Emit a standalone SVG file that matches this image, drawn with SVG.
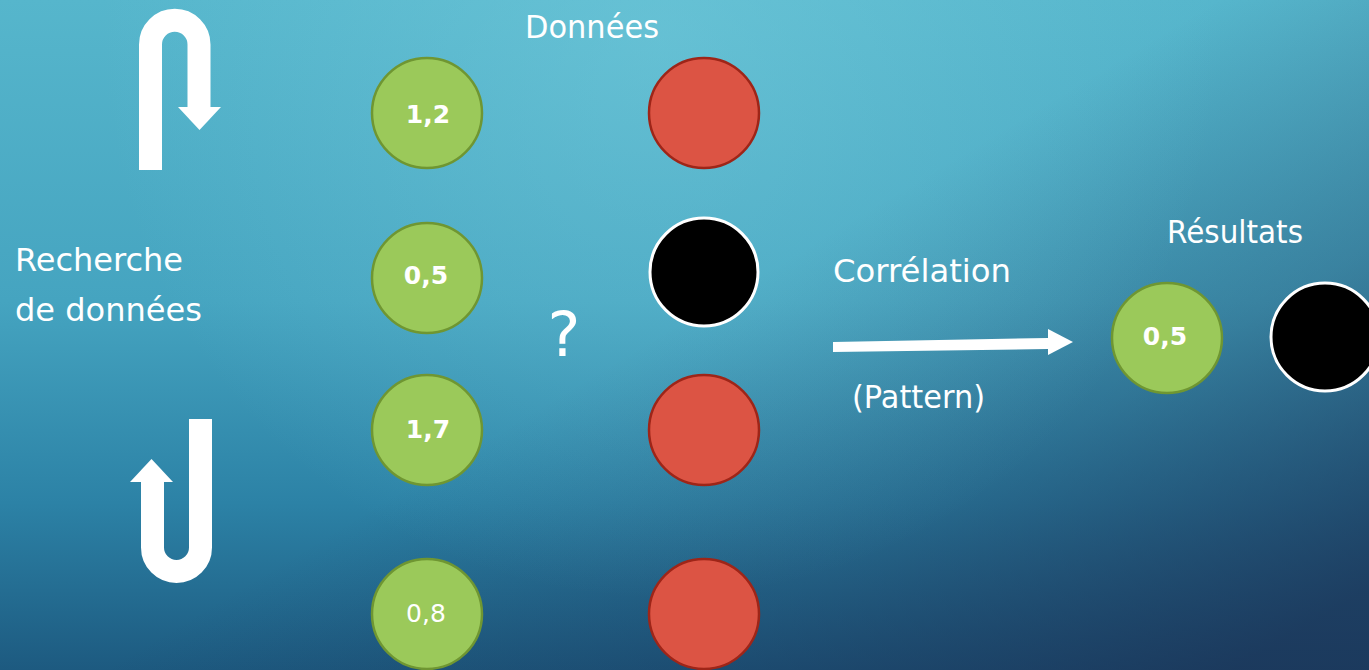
<svg xmlns="http://www.w3.org/2000/svg" width="1369" height="670" viewBox="0 0 1369 670">
  <defs>
    <linearGradient id="bgV" x1="0" y1="0" x2="0" y2="1">
      <stop offset="0" stop-color="#56b6cc"/>
      <stop offset="0.45" stop-color="#45a4c0"/>
      <stop offset="0.75" stop-color="#2c82a6"/>
      <stop offset="1" stop-color="#1d5a80"/>
    </linearGradient>
    <linearGradient id="bgD" x1="800" y1="250" x2="1100" y2="750" gradientUnits="userSpaceOnUse">
      <stop offset="0" stop-color="#1b2f52" stop-opacity="0"/>
      <stop offset="0.5" stop-color="#1b2f52" stop-opacity="0.3"/>
      <stop offset="1" stop-color="#1b2f52" stop-opacity="0.75"/>
    </linearGradient>
    <radialGradient id="bgH" cx="660" cy="40" r="560" gradientUnits="userSpaceOnUse">
      <stop offset="0" stop-color="#7fd3e2" stop-opacity="0.4"/>
      <stop offset="1" stop-color="#7fd3e2" stop-opacity="0"/>
    </radialGradient>
    <style>
      .lbl { font-family: "DejaVu Sans", "Liberation Sans", sans-serif; font-size: 32px; fill: #ffffff; }
      .num { font-family: "DejaVu Sans", "Liberation Sans", sans-serif; font-size: 25px; fill: #ffffff; text-anchor: middle; }
      .b { font-weight: bold; }
      .green { fill: #9bc95a; stroke: #6f9632; stroke-width: 2.5; }
      .red { fill: #dc5444; stroke: #9e2518; stroke-width: 2.5; }
      .black { fill: #000000; stroke: #ffffff; stroke-width: 3; }
      .uarr { fill: none; stroke: #ffffff; stroke-width: 23; }
      .white { fill: #ffffff; }
    </style>
  </defs>

  <rect x="0" y="0" width="1369" height="670" fill="url(#bgV)"/>
  <rect x="0" y="0" width="1369" height="670" fill="url(#bgD)"/>
  <rect x="0" y="0" width="1369" height="670" fill="url(#bgH)"/>

  <g id="loop-arrows">
    <path class="uarr" d="M150.5 170 V44.5 A24.25 24.25 0 0 1 199 44.5 V108"/>
    <polygon class="white" points="178,107 221,107 199.5,130"/>
    <path class="uarr" d="M200.5 419 V547.5 A24 24 0 0 1 152.5 547.5 V481"/>
    <polygon class="white" points="130,482 173,482 151.5,459"/>
  </g>

  <g id="labels">
    <text class="lbl" x="525" y="38" textLength="134" lengthAdjust="spacingAndGlyphs">Données</text>
    <text class="lbl" x="15" y="271" textLength="168" lengthAdjust="spacingAndGlyphs">Recherche</text>
    <text class="lbl" x="15" y="321" textLength="187" lengthAdjust="spacingAndGlyphs">de données</text>
    <text class="lbl" x="833" y="282" textLength="178" lengthAdjust="spacingAndGlyphs">Corrélation</text>
    <text class="lbl" x="852" y="408" textLength="133" lengthAdjust="spacingAndGlyphs">(Pattern)</text>
    <text class="lbl" x="1167" y="243" textLength="136" lengthAdjust="spacingAndGlyphs">Résultats</text>
    <text class="lbl" x="564" y="356" style="font-size:62px" text-anchor="middle">?</text>
  </g>

  <g id="node-g1">
    <circle class="green" cx="427" cy="113" r="55"/>
    <text class="num b" x="428" y="123">1,2</text>
  </g>
  <g id="node-g2">
    <circle class="green" cx="427" cy="278" r="55"/>
    <text class="num b" x="426" y="284">0,5</text>
  </g>
  <g id="node-g3">
    <circle class="green" cx="427" cy="430" r="55"/>
    <text class="num b" x="428" y="438">1,7</text>
  </g>
  <g id="node-g4">
    <circle class="green" cx="427" cy="614" r="55"/>
    <text class="num" x="426" y="622">0,8</text>
  </g>

  <g id="node-r1">
    <circle class="red" cx="704" cy="113" r="55"/>
  </g>
  <g id="node-k1">
    <circle class="black" cx="704" cy="272" r="54"/>
  </g>
  <g id="node-r2">
    <circle class="red" cx="704" cy="430" r="55"/>
  </g>
  <g id="node-r3">
    <circle class="red" cx="704" cy="614" r="55"/>
  </g>

  <g id="node-result-g">
    <circle class="green" cx="1167" cy="338" r="55"/>
    <text class="num b" x="1165" y="345">0,5</text>
  </g>
  <g id="node-result-k">
    <circle class="black" cx="1325" cy="337" r="54"/>
  </g>

  <g id="connectors">
    <polygon class="white" points="833,342 1048,338 1048,349 833,352"/>
    <polygon class="white" points="1048,329 1073,342 1048,355"/>
  </g>
</svg>
